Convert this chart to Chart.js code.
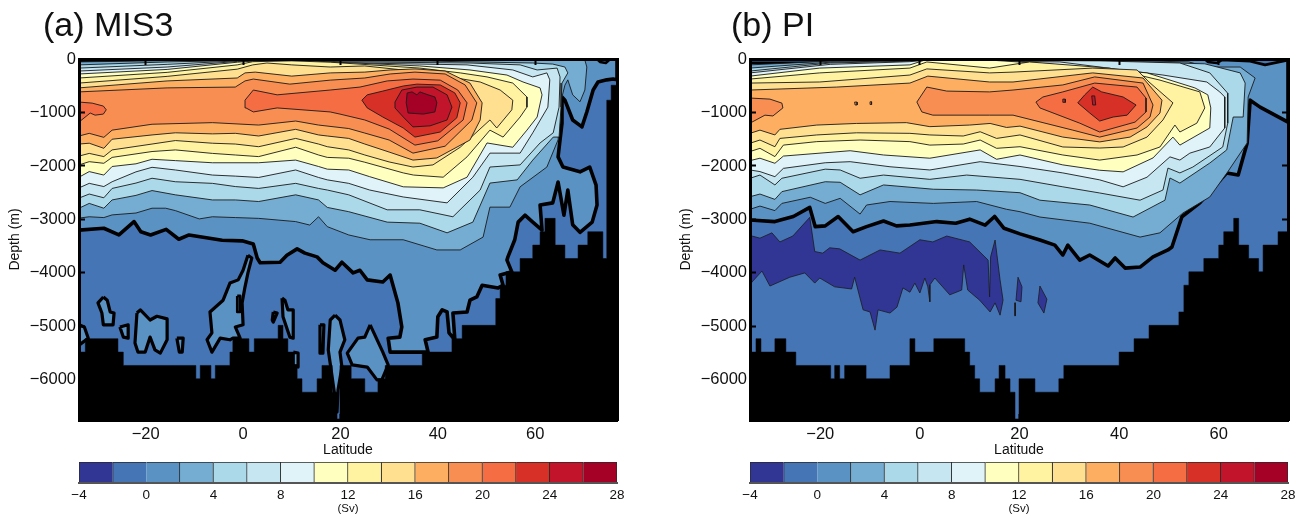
<!DOCTYPE html>
<html><head><meta charset="utf-8">
<script src="https://cdn.jsdelivr.net/npm/chart.js@4"></script>
<style>html,body{margin:0;padding:0;background:#fff;overflow:hidden}canvas{position:absolute}</style>
</head><body>
<canvas id="pa" width="653" height="460" style="left:0;top:0"></canvas>
<canvas id="pb" width="636" height="460" style="left:671px;top:0"></canvas>
<canvas id="ca" width="653" height="61" style="left:0;top:455px"></canvas>
<canvas id="cb" width="636" height="61" style="left:671px;top:455px"></canvas>
<script>
// Colour bar classes (Sv)
const levels=[-4,-2,0,2,4,6,8,10,12,14,16,18,20,22,24,26,28];
const bandColors=['#313695','#4575b4','#5b92c4','#74add1','#abd9e9','#c6e6f2','#e0f3f8','#ffffbf','#fff2a0','#fee090','#fdae61','#f98e52','#f46d43','#d73027','#c2142a','#a50026'];
const colorTicks=[-4,0,4,8,12,16,20,24,28];
const latTicks=[-20,0,20,40,60];
const depthTicks=[-6000,-5000,-4000,-3000,-2000,-1000,0];

// ---- Panel (a) MIS3: contours as flat lat,depth lists
const a_bathyLat=[-33.7,-32.4,-25.7,-24.6,-9.7,-8.8,-6.6,-5.7,-2.7,-2.1,1.2,2.3,7.2,8.2,9.2,10.3,11.1,12.1,15.2,16.2,18.3,19.3,19.9,22.2,25,27.7,29.2,36.8,42.9,45,51.9,52.8,54,56.9,59.5,61,62,64.1,66.1,68.8,70.8,73.9,74.7,75.6,76.8];
const a_bathyDepth=[5480,5230,5480,5730,5980,5730,5980,5730,5480,5230,5480,5230,4980,5230,5480,5730,5980,6230,5980,5730,6230,6730,5730,5980,6230,5980,5730,5480,5230,4980,4480,4230,3980,3730,3480,3230,2980,3480,3730,3480,3230,3730,770,490,490];
const a_L0=[-33.7,0,76.8,0,76.8,390,76,375,74.7,390,72.9,430,71.9,580,70.6,990,69.6,1270,67.7,1140,66.1,770,65.5,710,65.5,1200,65.1,1510,64.7,1830,65.7,2020,69.2,2110,71.2,2020,72.5,2360,72.7,2730,71.7,3050,69.2,3240,67.7,3100,66.7,2450,65.9,2920,64.7,2300,63.6,2690,61,2730,61.4,3200,59.5,3050,57.9,2920,56.5,3050,55.8,3380,54.4,3700,54.2,3760,55.2,3980,52.8,4040,53.4,4230,52.4,4280,49.1,4230,48,4450,46.6,4510,46,4730,43.1,4750,43.5,5250,42.3,5120,41.9,4730,40.9,4690,40,4820,39.8,5200,37.4,5250,38,5480,36.8,5480,30.2,5480,29.8,5220,32.2,5200,32.6,5010,31.8,4560,30.2,4040,28.7,4170,25.5,4130,24,3950,22.6,4000,20.3,3800,18.9,3950,16.4,3810,15.2,3700,12.7,3630,11.1,3550,9,3670,7.6,3800,3.5,3810,2.9,3720,2.1,3460,-0.2,3400,-4.3,3390,-11.1,3290,-13.2,3370,-15.8,3185,-19,3290,-21,3230,-22.4,3040,-25.5,3290,-28.6,3165,-33.7,3200];
const a_blobs=[
[1,3670,1.8,3720,1,4000,0.4,4260,-0.2,4560,0,4970,-1.6,5010,-0.6,5220,-2.1,5220,-2.7,5250,-4.7,5220,-6.4,5480,-7.4,5250,-6.4,5120,-6.8,4730,-4.1,4510,-2.7,4190,-1,4130,0,3950],
[-28.7,4450,-27.9,4510,-27.3,4730,-26.5,4750,-26.7,4970,-28.7,4970,-29,4750,-29.8,4560],
[-25.3,5010,-23.6,4970,-23.6,5220,-24.6,5200],
[-21.8,4750,-21.1,4690,-19.1,4880,-17.7,4810,-15.6,4860,-15.6,5250,-17,5500,-18.1,5440,-19.1,5200,-20.1,5480,-21.6,5480,-22.2,5310],
[-13.6,5220,-12.3,5220,-12.5,5480,-13.1,5480],
[-33.7,4970,-32.6,5010,-31.8,5220,-33.7,5350],
[8,4470,8.6,4510,9.2,4690,10.3,4690,10.3,5220,9.6,5200,8.2,4820],
[6.2,4730,7,4750,6.2,4920,6,4880],
[15.8,4970,16.6,4970,16.4,5500,15.8,5500],
[18.9,4790,19.9,4880,20.9,5250,19.9,5480,20.3,5760,19.5,6190,19.3,6600,18.3,5950,17.5,5440,17.9,4880],
[10.3,5480,11.3,5500,11.3,5760,10.3,5720],
[26.1,4970,28.7,5480,29.8,5720,28.5,6000,27.5,6000,25.5,5760,22.4,5720,21.4,5500,23.6,5220,25,5200]];
const a_holes=[[-1.2,4430,-0.6,4430,-0.6,4730,-1.2,4730],[72.7,0,73.3,55,74.5,75,75.4,0],[-33.7,0,-0.4,0,-1.2,45,-33.7,45]];
const a_navy=[[-15.6,15,-1.6,15,-3,50,-15,50]];
const a_L2=[-33.7,55,-15.6,30,-1.2,25,1.4,20,44,15,57.9,25,69.8,5,70.2,20,70.6,150,70.2,580,69.2,800,67.7,670,66.7,390,66.1,490,65.5,710,65.1,950,64.7,1510,62.4,2020,56.9,2390,54.8,2770,50.7,2770,49.3,3330,44.6,3570,39.8,3570,32.9,3380,26.1,3380,21.7,3290,17.3,3135,15.5,2950,13.7,3105,10.8,3040,3.2,2980,-1.6,2965,-6.3,2950,-9,2990,-13.9,2835,-15.9,2790,-18.7,2790,-22,2880,-26.9,2915,-28.6,2965,-31.6,2950,-33.7,2975];
const a_L4=[-33.7,110,-15.6,55,-1.2,30,1.8,30,38.4,40,59.5,75,63.6,95,66.1,150,66.7,260,65.5,450,65.3,900,64.9,1460,63.7,1460,59.5,1890,56.3,2260,50.7,2320,47.2,3050,41.9,3250,36.3,3070,29.6,3050,21.7,2855,17.3,2775,15.5,2635,10.8,2540,3.2,2665,-1.6,2635,-6.3,2635,-13.9,2540,-18.7,2460,-22,2550,-26.9,2635,-28.6,2790,-31.6,2700,-33.7,2790];
const a_L6=[-33.7,170,-15.6,100,-1.2,35,1.8,35,46.6,75,56.9,110,60.4,205,64.5,170,65.1,335,64.9,900,63.7,1380,61,1570,56.9,1980,50.7,2020,48.7,2450,43.1,2950,36.3,2820,29.6,2820,21.7,2540,17.3,2450,15.5,2420,10.8,2325,3.2,2420,-1.6,2385,-6.3,2325,-13.9,2295,-18.7,2230,-22,2320,-26.9,2420,-28.6,2595,-31.6,2525,-33.7,2600];
const a_L8=[-33.7,225,-15.6,150,-1.2,45,2,40,46,110,55.4,205,59.5,335,62.4,260,63,390,62.6,900,59.5,1380,56.9,1760,50.7,1760,47.2,2210,41.9,2690,32.9,2580,26,2450,21.7,2325,17.3,2260,15.5,2215,10.8,2075,3.2,2215,-1.6,2190,-6.3,2170,-13.9,2075,-18.7,2025,-22,2110,-26.9,2295,-28.6,2385,-31.6,2325,-33.7,2410];
const a_L10=[-33.7,280,-15.6,195,-1.2,60,2,40,12,30,36.3,130,46.6,205,54.2,300,57.5,430,61,540,61.4,670,60.4,1085,58.3,1330,55.4,1650,50.1,1570,46,2210,41.1,2410,32.9,2390,26,2200,21.7,2075,17.3,2060,15.5,2010,10.8,1890,3.2,1940,-6.3,1940,-13.9,1900,-18.7,1875,-22,1960,-26.9,2010,-28.6,2170,-31.6,2105,-33.7,2210];
const a_L12=[-33.7,355,-15.6,250,-1.2,110,2,50,10,35,17.9,60,36.3,170,44.6,260,50.1,335,55.4,450,58.3,710,58.3,900,56.9,1085,53.4,1460,50.7,1330,46,1830,41.1,2210,35,2170,32.9,2130,25,1930,21.7,1855,17.3,1840,15.5,1795,10.8,1650,3.2,1825,-1.6,1795,-6.3,1765,-13.9,1700,-18.7,1730,-26.9,1840,-28.6,1950,-31.6,1920,-33.7,1980];
const a_L14=[-33.7,450,-15.6,325,-1.2,190,2,110,4.9,75,10,110,17.9,150,25,130,34.9,225,41.5,320,48.7,430,52.8,580,55.4,770,55.2,950,52.1,1290,50.7,1140,44.6,1650,39,1980,34.9,2020,30,1925,25,1795,21.7,1700,17.3,1640,15.5,1590,10.8,1485,3.2,1640,-1.6,1590,-6.3,1575,-13.9,1525,-18.7,1590,-26.9,1700,-28.6,1825,-31.6,1765,-33.7,1815];
const a_L16=[-33.7,540,-15.6,410,-1.2,355,0.4,260,2.5,245,10,320,17.9,260,25,245,30.2,205,35.3,185,41.5,225,46.6,450,49.1,820,48.7,1140,46.6,1515,39.8,1850,34.9,1890,30,1740,25,1590,21.7,1485,17.3,1440,15.5,1420,10.8,1315,3.2,1440,-1.6,1390,-6.3,1400,-13.9,1380,-18.7,1420,-26.9,1500,-28.6,1670,-31.6,1575,-33.7,1590];
const a_L18=[-33.7,615,-15.6,540,-1.6,525,0.4,410,2.1,375,9.6,470,17.9,395,25,355,30.2,280,35.3,245,41.5,280,45.6,485,48,820,47,1140,41.5,1630,34.9,1760,30,1515,25,1385,21.7,1300,15.5,1235,10.8,1160,3.2,1235,-6.3,1190,-18.7,1220,-26.9,1330,-28.6,1465,-31.6,1390,-33.7,1440];
const a_L20=[0.4,770,2.1,580,7,670,17.9,580,24,525,29.6,410,34.9,375,40.5,395,44.1,580,46,820,45.2,1140,40,1530,35.3,1610,30,1310,25,1140,19.9,1030,17.9,990,7,915,2.1,990,0.6,915];
const a_L20b=[-33.7,805,-31,825,-28.7,880,-28.1,950,-28.7,1030,-30.4,1050,-31.4,1010,-33.7,1180];
const a_L22=[24.4,770,25.5,670,28.7,600,32.9,505,35.7,470,40.5,485,43.5,635,44.6,820,43.9,1100,40.5,1365,35.3,1460,32.9,1290,28.7,1085,25.5,915];
const a_L24=[31.2,805,32.6,580,35.7,525,39,525,41.9,670,42.9,900,41.9,1140,38.4,1250,34.9,1270,32.9,1085,31.2,915];
const a_L26=[33.5,820,33.7,635,34.7,615,35.7,670,36.3,615,38,670,39.4,710,39.8,820,39.4,990,37,1030,33.9,1010];

// ---- Panel (b) PI
const b_bathyLat=[-34.1,-32.9,-31.9,-29.1,-26.9,-24.9,-17.9,-17.1,-16.1,-15.1,-10.8,-6,-2,-1,2.8,9,10,11,12,15.1,15.9,17.1,18.1,19.1,19.9,23.1,27.9,28.9,40,43,46,52,53,54,57,60,61,63,64,66,68,68.9,71.9,73.9];
const b_bathyDepth=[5480,5230,5480,5230,5480,5730,5980,5730,5980,5730,5980,5730,5230,5480,5230,5480,5730,5980,6230,5980,5730,5980,6230,6730,5980,6230,5980,5730,5480,5230,4980,4730,4230,3980,3730,3480,3230,2980,3480,3730,3980,3480,3230,3230];
const b_L0=[-34.1,0,73.9,0,73.9,1180,68.3,900,66.3,770,65.7,1570,63.9,2170,61.6,2130,56.2,2690,52.6,2950,50.6,3515,49.8,3570,46.8,3700,44.2,3890,41.2,3910,39.2,3720,37.8,3870,34.1,3665,32.1,3760,29.7,3480,28.7,3665,27.1,3480,24.1,3385,20.1,3270,16.9,3165,15,2945,13.1,3105,10,2995,7.2,3070,3.4,3040,-2,3105,-4.7,3120,-7.3,3030,-10.7,3135,-13.4,3230,-16.4,2945,-19,3120,-21,3135,-22.1,2775,-25.4,2945,-29.1,3040,-34.1,3010];
const b_holes=[[-34.1,0,-0.4,0,-1,60,-15,70,-34.1,70],[57.2,0,57.8,55,59.6,75,60.6,20,66.3,40,69.3,110,73.9,20,73.9,0]];
const b_navyTop=[[-16.5,15,-1,15,-2.5,55,-10,70,-16,55]];
const b_navy=[[-34.1,3340,-33.7,3310,-32.1,3350,-29.7,3250,-28.1,3420,-25.5,3310,-22.1,2960,-21.1,3600,-19.5,3630,-18.1,3530,-16.1,3550,-12,3760,-8,3570,-4,3630,0,3380,2.6,3420,5.4,3310,10,3420,13.7,3760,14,4450,14.2,3700,15.1,3385,16.1,4130,16.7,4510,16.1,4790,15.1,4560,14.1,4730,12,4510,9.6,4320,8.8,3850,8.4,4320,6,4410,3,4095,2,4225,2,4540,1.6,4260,1,4095,0,4375,-1,4190,-2,4360,-3.4,4280,-4.6,4640,-6,4750,-8.4,4690,-9,5070,-10,4730,-11.4,4690,-13.1,4080,-13.7,4300,-17.1,4260,-20.1,4095,-21.1,4190,-23.1,4000,-26.1,4080,-30.1,4245,-31.7,3965,-33.7,4170,-34.1,4225],
[19.7,4080,20.5,4260,20.3,4540,19.3,4510],[24.1,4245,25.5,4490,24.9,4750,23.7,4560],[19,4560,19.2,4560,19.2,4800,19,4800]];
const b_L2=[-34.1,110,-18,40,-2,20,1,10,36,15,54,55,57.6,150,64.3,150,67.3,355,65.9,710,65.7,1570,61.8,2110,58.2,2580,52.8,2880,48.2,3250,44.2,3330,34.1,3070,24.1,2955,20.1,2855,17.4,2810,11.4,2665,2.7,2700,-6,2665,-10.7,2730,-12,2900,-16,2605,-19,2700,-22,2585,-27.7,2700,-29.1,2835,-32.1,2750,-34.1,2810];
const b_L4=[-34.1,170,-18,60,-2,30,1,15,36,25,46,60,57.2,90,64.3,260,65.3,450,64.9,1085,62.9,1085,61.6,1700,58.2,1945,52.2,2320,50.2,2225,49.2,2640,42.8,2955,34.1,2730,24.1,2640,20.1,2500,11.4,2450,2.7,2435,-7.3,2355,-12,2540,-16,2305,-19,2295,-27.7,2480,-29.1,2625,-32.1,2525,-34.1,2575];
const b_L6=[-34.1,225,-18,75,-2,40,1,20,36,35,52.2,75,58.2,260,61.8,640,61.8,1200,60.8,1645,54.8,2020,52.2,2130,49.8,2040,48.8,2450,44.2,2640,36.1,2505,28.7,2390,20.1,2250,9.4,2170,2,2250,-7.3,2170,-12,2230,-16,2075,-19,2060,-27.7,2230,-29.1,2355,-32.1,2170,-34.1,2230];
const b_L8=[-34.1,260,-18,100,-2,50,1,25,28.1,55,48.8,300,57.6,430,60.2,615,61.2,710,61.2,1290,58.2,1645,54.2,1760,52.2,1890,50.2,1830,45.6,2210,40.8,2390,36.1,2260,28.7,2130,20.1,2010,12.1,1920,2,2075,-6,2015,-14,1920,-19,1940,-27.4,2045,-29.1,2200,-32.1,2105,-34.1,2075];
const b_L10=[-34.1,320,-20.1,170,-2,110,1,20,14,20,25.5,90,45.6,260,55.2,540,57.8,670,58.4,915,58.2,1290,52.2,1610,50.8,1460,46.8,1850,40.8,2110,36.1,2080,28.7,1980,20.1,1795,15.4,1875,12.1,1700,2,1855,-7.3,1795,-14,1715,-27.4,1815,-29.1,1950,-32.1,1855,-34.1,1900];
const b_L12=[-34.1,375,-20.1,260,-2,170,1.4,55,14,170,22,55,38,170,48.2,395,56.2,615,57.2,915,55.6,1200,52.2,1365,51.2,1235,48.2,1645,43.6,1795,36.1,1890,28.7,1795,20.1,1640,15.4,1670,12.1,1515,8.7,1590,2,1610,-2,1545,-12,1515,-20.7,1545,-27.4,1610,-29.1,1825,-32.1,1670,-34.1,1730];
const b_L14=[-34.1,450,-20.1,430,-2,300,1.4,185,14,260,18.7,245,34.7,170,43.6,205,46,430,50.8,820,48.8,1140,45.6,1460,40.8,1645,36.1,1665,28.7,1645,20.1,1420,15.4,1485,12.1,1360,8.7,1440,2,1420,-2,1390,-12.7,1380,-20.7,1420,-28.1,1485,-29.1,1640,-32.1,1515,-34.1,1575];
const b_L16=[-34.1,580,-16.7,525,-2,450,1.6,320,14,430,18.7,430,34.7,260,44.8,355,48.6,770,48.2,1010,45.6,1270,42.2,1460,36.1,1550,28.7,1460,20.1,1255,17.4,1280,14.1,1205,10,1235,2,1265,-2.7,1190,-12.7,1205,-20.7,1235,-28.1,1315,-29.1,1420,-32.1,1330,-34.1,1390];
const b_L18=[-0.6,805,1.4,525,5.4,600,14,615,18.7,580,28.7,485,35.1,335,44.8,450,46.8,860,46.2,1085,43.6,1290,36.1,1460,30.7,1330,18.7,1050,14,1050,2.6,1050,0.4,990];
const b_L18b=[-34.1,730,-30.1,750,-27.7,825,-27.5,915,-29.5,1065,-31.1,1050,-33.7,1180,-34.1,1180];
const b_L18c=[-13.1,805,-12.6,805,-12.6,860,-13,860];
const b_L18d=[-10,800,-9.7,800,-9.7,850,-10,850];
const b_L20=[23.3,805,24.7,710,28.7,615,35.1,450,43.6,525,45.4,730,45.4,990,43.2,1180,36.1,1365,32.1,1200,24.1,915];
const b_L22=[31.7,820,33.1,670,34.7,525,36.5,615,40.8,710,43.4,860,41.6,1050,38.8,1085,36.1,1160,34.1,1010];
const b_L22b=[28.7,750,29.2,750,29.2,810,28.7,810];
const b_L24=[34.5,690,35.1,690,35.3,860,34.7,860];

const FONT='"Liberation Sans", Arial, sans-serif';
Chart.defaults.font.family=FONT;
Chart.defaults.color='#111';

function band(v){return bandColors[levels.indexOf(v)];}
function shape(flat,level,width,color){
  const pts=[];
  for(let i=0;i<flat.length;i+=2)pts.push({x:flat[i],y:-flat[i+1]});
  pts.push({x:flat[0],y:-flat[1]});
  return {data:pts,showLine:true,fill:'shape',backgroundColor:band(level),borderColor:color||'#1a1a1a',borderWidth:width,tension:0,pointRadius:0,borderJoinStyle:'round'};
}
function bathy(lat,dep){
  const pts=lat.map((x,i)=>({x,y:-dep[i]}));
  return {data:pts,showLine:true,stepped:true,fill:'start',backgroundColor:'#000',borderColor:'#000',borderWidth:0.5,pointRadius:0};
}
const minus=v=>String(v).replace('-','\u2212');
const useTicks=list=>s=>{s.ticks=list.map(value=>({value}));};

function panel(id,title,titleLeft,xMin,xMax,rightPad,layers,bLat,bDep){
  const ds=layers.concat([bathy(bLat,bDep)]).map((d,i)=>Object.assign(d,{order:-i,xAxisID:'x',yAxisID:'y'}));
  const gridX={drawOnChartArea:false,drawTicks:true,tickLength:-6,tickWidth:2,tickColor:'#000',z:1};
  const border={display:true,color:'#000',width:3,z:1};
  new Chart(document.getElementById(id),{
    type:'scatter',
    data:{datasets:ds},
    options:{responsive:false,animation:false,devicePixelRatio:1,
      layout:{padding:{left:0,right:rightPad,top:0,bottom:0}},
      plugins:{legend:{display:false},tooltip:{enabled:false},
        title:{display:true,text:title,align:'start',color:'#111',font:{size:34,weight:'normal',family:FONT,lineHeight:1},padding:{top:10,bottom:15}}},
      scales:{
        x:{type:'linear',position:'bottom',min:xMin,max:xMax,border,grid:gridX,afterBuildTicks:useTicks(latTicks),
          ticks:{autoSkip:false,maxRotation:0,padding:11,font:{size:16.5},callback:minus},
          title:{display:true,text:'Latitude',font:{size:14,lineHeight:1},color:'#111',padding:{top:0,bottom:3}},
          afterFit(s){s.height=40;}},
        y:{type:'linear',position:'left',min:-6750,max:0,border,grid:gridX,afterBuildTicks:useTicks(depthTicks),
          ticks:{autoSkip:false,padding:9,font:{size:16.5},callback:minus},
          title:{display:true,text:'Depth (m)',font:{size:14,lineHeight:1},color:'#111',padding:{top:8,bottom:0}},
          afterFit(s){s.width=79;}},
        x2:{type:'linear',position:'top',min:xMin,max:xMax,border,grid:gridX,afterBuildTicks:useTicks(latTicks),
          ticks:{display:false},afterFit(s){s.height=0;}},
        y2:{type:'linear',position:'right',min:-6750,max:0,border,grid:gridX,afterBuildTicks:useTicks(depthTicks),
          ticks:{display:false},afterFit(s){s.width=0;}}
      }
    },
    plugins:[{id:'titleLeft',afterLayout(c){c.titleBlock.left=titleLeft;}}]
  });
}
function colorbar(id,rightPad){
  const ds=bandColors.map((c,i)=>({data:[[levels[i],levels[i+1]]],backgroundColor:c,borderColor:'#2a2a2a',borderWidth:1,barPercentage:1,categoryPercentage:1,grouped:false}));
  new Chart(document.getElementById(id),{
    type:'bar',
    data:{labels:[''],datasets:ds},
    options:{indexAxis:'y',responsive:false,animation:false,devicePixelRatio:1,
      layout:{padding:{left:79,right:rightPad,top:7,bottom:0}},
      plugins:{legend:{display:false},tooltip:{enabled:false}},
      scales:{
        y:{type:'category',display:false,grid:{display:false}},
        x:{type:'linear',min:-4,max:28,position:'bottom',
          afterBuildTicks:useTicks(colorTicks),
          border:{display:true,color:'#555',width:2,z:1},grid:{display:false,drawTicks:false},
          ticks:{padding:4,autoSkip:false,maxRotation:0,font:{size:13.5},callback:minus},
          title:{display:true,text:'(Sv)',font:{size:11.5,lineHeight:1},color:'#111',padding:{top:0,bottom:1}},
          afterFit(s){s.height=33;}}
      }
    }
  });
}

const layersA=[
  shape([-33.7,0,76.8,0,76.8,6750,-33.7,6750],-2,0),
  shape(a_L0,0,3.6,'#000'),
  ...a_blobs.map(b=>shape(b,0,3.2,'#000')),
  ...a_holes.map(b=>shape(b,-2,2.6,'#000')),
  ...a_navy.map(b=>shape(b,-4,0.8)),
  shape(a_L2,2,0.9),shape(a_L4,4,0.9),shape(a_L6,6,0.9),shape(a_L8,8,0.9),shape(a_L10,10,0.9),
  shape(a_L12,12,0.9),shape(a_L14,14,0.9),shape(a_L16,16,0.9),shape(a_L18,18,0.9),
  shape(a_L20,20,0.9),shape(a_L20b,20,0.9),shape(a_L22,22,0.9),shape(a_L24,24,0.9),shape(a_L26,26,0.9)
];
const layersB=[
  shape([-34.1,0,73.9,0,73.9,6750,-34.1,6750],-2,0),
  ...b_navy.map(b=>shape(b,-4,0.8)),
  shape(b_L0,0,3.6,'#000'),
  ...b_holes.map(b=>shape(b,-2,2.6,'#000')),
  ...b_navyTop.map(b=>shape(b,-4,0.8)),
  shape(b_L2,2,0.9),shape(b_L4,4,0.9),shape(b_L6,6,0.9),shape(b_L8,8,0.9),shape(b_L10,10,0.9),
  shape(b_L12,12,0.9),shape(b_L14,14,0.9),shape(b_L16,16,0.9),
  shape(b_L18,18,0.9),shape(b_L18b,18,0.9),shape(b_L18c,18,0.9),shape(b_L18d,18,0.9),
  shape(b_L20,20,0.9),shape(b_L22,22,0.9),shape(b_L22b,22,0.9),shape(b_L24,24,0.9)
];
panel('pa','(a) MIS3',43,-33.7,76.8,36,layersA,a_bathyLat,a_bathyDepth);
panel('pb','(b) PI',60,-34.1,73.9,19,layersB,b_bathyLat,b_bathyDepth);
colorbar('ca',36);
colorbar('cb',19);
</script>
</body></html>
